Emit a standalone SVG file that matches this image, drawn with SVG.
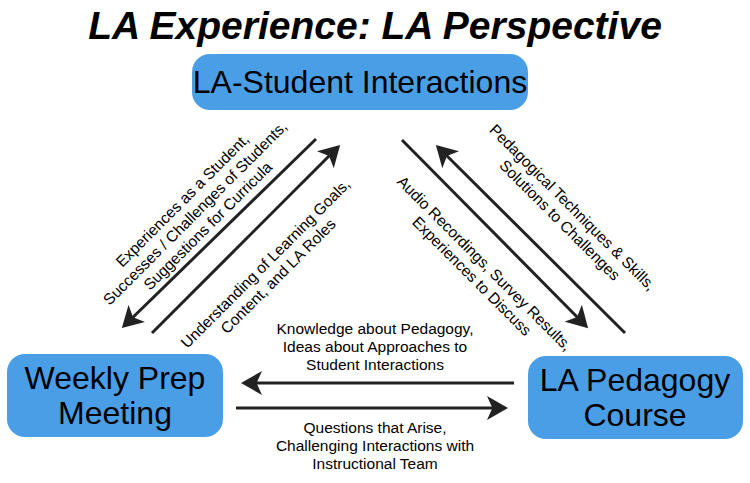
<svg xmlns="http://www.w3.org/2000/svg" width="750" height="483" viewBox="0 0 750 483">
<style>
.box{fill:#4a9ee6;stroke:none}
.bt{font-family:"Liberation Sans",Arial,sans-serif;font-size:32px;fill:#000;text-anchor:middle}
.lb{font-family:"Liberation Sans",Arial,sans-serif;font-size:15.5px;fill:#000;text-anchor:middle}
.ln{stroke:#222;stroke-width:3;fill:none}
</style>
<defs><marker id="ah" markerWidth="8" markerHeight="8" refX="6" refY="4" orient="auto" markerUnits="strokeWidth"><path d="M0,0 L7,4 L0,8 L1.8,4 Z" fill="#222"/></marker></defs>
<rect width="750" height="483" fill="#fff"/>
<text x="375" y="39" font-family="Liberation Sans,Arial,sans-serif" font-size="39" font-weight="bold" font-style="italic" text-anchor="middle">LA Experience: LA Perspective</text>
<g id="top"><rect class="box" x="192" y="54" width="336" height="56" rx="18"/><text class="bt" x="360" y="93">LA-Student Interactions</text></g>
<g id="weekly"><rect class="box" x="7" y="354" width="216" height="83" rx="18"/><text class="bt" x="115" y="389">Weekly Prep</text><text class="bt" x="115" y="424">Meeting</text></g>
<g id="course"><rect class="box" x="528" y="356" width="215" height="83" rx="18"/><text class="bt" x="635" y="391">LA Pedagogy</text><text class="bt" x="635" y="426">Course</text></g>
<g id="connectors">
<line class="ln" x1="316" y1="139" x2="124" y2="326" marker-end="url(#ah)"/>
<line class="ln" x1="152" y1="333" x2="338" y2="147" marker-end="url(#ah)"/>
<line class="ln" x1="402" y1="140" x2="586" y2="326" marker-end="url(#ah)"/>
<line class="ln" x1="625" y1="333" x2="438" y2="147" marker-end="url(#ah)"/>
<line class="ln" x1="514" y1="383" x2="244" y2="383" marker-end="url(#ah)"/>
<line class="ln" x1="236" y1="408" x2="505" y2="408" marker-end="url(#ah)"/>
</g>
<g id="labels">
<g transform="translate(196,214) rotate(-45)"><text class="lb" y="-14">Experiences as a Student,</text><text class="lb" y="4">Successes / Challenges of Students,</text><text class="lb" y="22">Suggestions for Curricula</text></g>
<g transform="translate(272,270) rotate(-45)"><text class="lb" y="-4">Understanding of Learning Goals,</text><text class="lb" y="14">Content, and LA Roles</text></g>
<g transform="translate(566,214) rotate(45)"><text class="lb" y="-4">Pedagogical Techniques &amp; Skills,</text><text class="lb" y="14">Solutions to Challenges</text></g>
<g transform="translate(478,270) rotate(45)"><text class="lb" y="-4">Audio Recordings, Survey Results,</text><text class="lb" y="14">Experiences to Discuss</text></g>
<text class="lb" x="375" y="334">Knowledge about Pedagogy,</text>
<text class="lb" x="375" y="352">Ideas about Approaches to</text>
<text class="lb" x="375" y="370">Student Interactions</text>
<text class="lb" x="375" y="433">Questions that Arise,</text>
<text class="lb" x="375" y="451">Challenging Interactions with</text>
<text class="lb" x="375" y="469">Instructional Team</text>
</g>
</svg>
